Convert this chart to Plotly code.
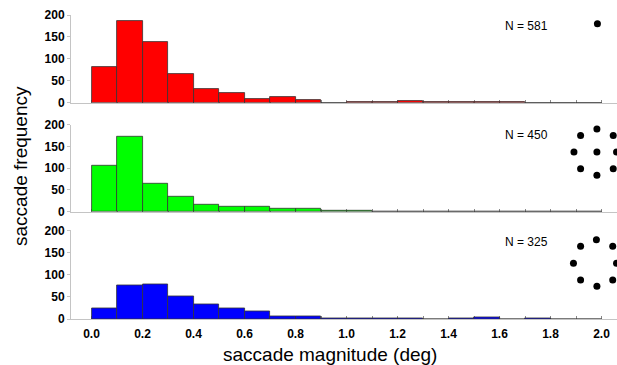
import plotly.graph_objects as go

# ---------------- data ----------------
bin_left = [round(0.1 * i, 1) for i in range(20)]  # 0.0 .. 1.9 (bin width 0.1 deg)
bin_width = 0.1

red_counts = [81, 186, 138, 66, 32, 21, 9, 13, 6, 0, 2, 1, 3, 1, 1, 1, 1, 0, 0, 0]
green_counts = [105, 172, 65, 34, 17, 11, 12, 8, 7, 2, 2, 1, 1, 1, 0, 0, 1, 0, 1, 1]
blue_counts = [23, 75, 77, 50, 34, 25, 17, 5, 6, 1, 1, 2, 1, 0, 1, 3, 0, 1, 0, 0]

n_labels = ["N = 581", "N = 450", "N = 325"]

# target-dot layouts (deg, count units of each panel)
dots_top_x = [1.984]
dots_top_y = [180]
dots_mid_x = [1.982, 1.918, 2.046, 1.892, 1.982, 2.059, 1.918, 1.982, 2.046]
dots_mid_y = [190, 175, 175, 137, 137, 137, 99, 84, 99]
dots_bot_x = [1.980, 1.918, 2.044, 1.890, 2.059, 1.918, 1.982, 2.044]
dots_bot_y = [179, 164, 164, 126, 126, 88, 74, 88]

x_ticks = [0.0, 0.2, 0.4, 0.6, 0.8, 1.0, 1.2, 1.4, 1.6, 1.8, 2.0]
y_ticks = [0, 50, 100, 150, 200]

colors = ["#ff0000", "#00ff00", "#0000ff"]

# ---------------- figure ----------------
W, H = 617, 365
ML, MR, MT, MB = 71, 0, 15, 46
plot_h = H - MT - MB

x_range = [-20.5 / 255, 2.0 + 15.5 / 255]

domains = [[216.3 / plot_h, 1.0], [107.3 / plot_h, 194.3 / plot_h], [0.0, 88.6 / plot_h]]

series = [red_counts, green_counts, blue_counts]
dots = [(dots_top_x, dots_top_y), (dots_mid_x, dots_mid_y), (dots_bot_x, dots_bot_y)]

fig = go.Figure()
centers = [b + bin_width / 2 for b in bin_left]

for i, (vals, col) in enumerate(zip(series, colors)):
    suffix = "" if i == 0 else str(i + 1)
    fig.add_trace(go.Bar(
        x=centers, y=vals, width=bin_width,
        marker=dict(color=col, line=dict(color="#333333", width=0.8)),
        xaxis="x" + suffix, yaxis="y" + suffix, showlegend=False,
    ))
    dx, dy = dots[i]
    fig.add_trace(go.Scatter(
        x=dx, y=dy, mode="markers",
        marker=dict(color="black", size=7),
        xaxis="x" + suffix, yaxis="y" + suffix, showlegend=False,
        cliponaxis=True,
    ))

tickfont = dict(family="Liberation Sans, Arial, sans-serif", size=12, color="black", weight="bold")
axis_gray = "#c4c4c4"

layout = dict(
    width=W, height=H,
    margin=dict(l=ML, r=MR, t=MT, b=MB),
    paper_bgcolor="white", plot_bgcolor="white",
    bargap=0,
    font=dict(family="Liberation Sans, Arial, sans-serif", color="black"),
)

for i in range(3):
    suffix = "" if i == 0 else str(i + 1)
    layout["xaxis" + suffix] = dict(
        domain=[0, 1], range=x_range, anchor="y" + suffix,
        showgrid=False, zeroline=False,
        showline=True, linecolor=axis_gray, linewidth=1,
        ticks="inside", ticklen=3, tickcolor="#888888", tickwidth=1,
        tickvals=x_ticks, ticktext=[f"{v:.1f}" for v in x_ticks],
        minor=dict(ticks="inside", dtick=0.1, tick0=0, ticklen=3, tickcolor="#888888"),
        showticklabels=(i == 2), tickfont=tickfont, ticklabelstandoff=4,
        layer="below traces",
    )
    layout["yaxis" + suffix] = dict(
        domain=domains[i], range=[0, 200], anchor="x" + suffix,
        showgrid=False, zeroline=False,
        showline=True, linecolor=axis_gray, linewidth=1,
        ticks="outside", ticklen=3, tickcolor=axis_gray,
        tickvals=y_ticks, tickfont=tickfont,
        layer="below traces",
    )

fig.update_layout(**layout)

annotations = []
n_y = [174, 176, 173]
for i in range(3):
    suffix = "" if i == 0 else str(i + 1)
    annotations.append(dict(
        x=1.614, y=n_y[i], xref="x" + suffix, yref="y" + suffix,
        text=n_labels[i], showarrow=False, xanchor="left", yanchor="middle",
        font=dict(family="Liberation Sans, Arial, sans-serif", size=12, color="black"),
    ))

annotations.append(dict(
    x=(330 - ML) / (W - ML - MR), y=-35 / plot_h, xref="paper", yref="paper",
    text="saccade magnitude (deg)", showarrow=False, xanchor="center", yanchor="middle",
    font=dict(family="Liberation Sans, Arial, sans-serif", size=19, color="black"),
))
annotations.append(dict(
    x=(20 - ML) / (W - ML - MR), y=(H - 166 - MB) / plot_h, xref="paper", yref="paper",
    text="saccade frequency", showarrow=False, xanchor="center", yanchor="middle",
    textangle=-90,
    font=dict(family="Liberation Sans, Arial, sans-serif", size=19, color="black"),
))
fig.update_layout(annotations=annotations)

fig.write_html("out.html")
